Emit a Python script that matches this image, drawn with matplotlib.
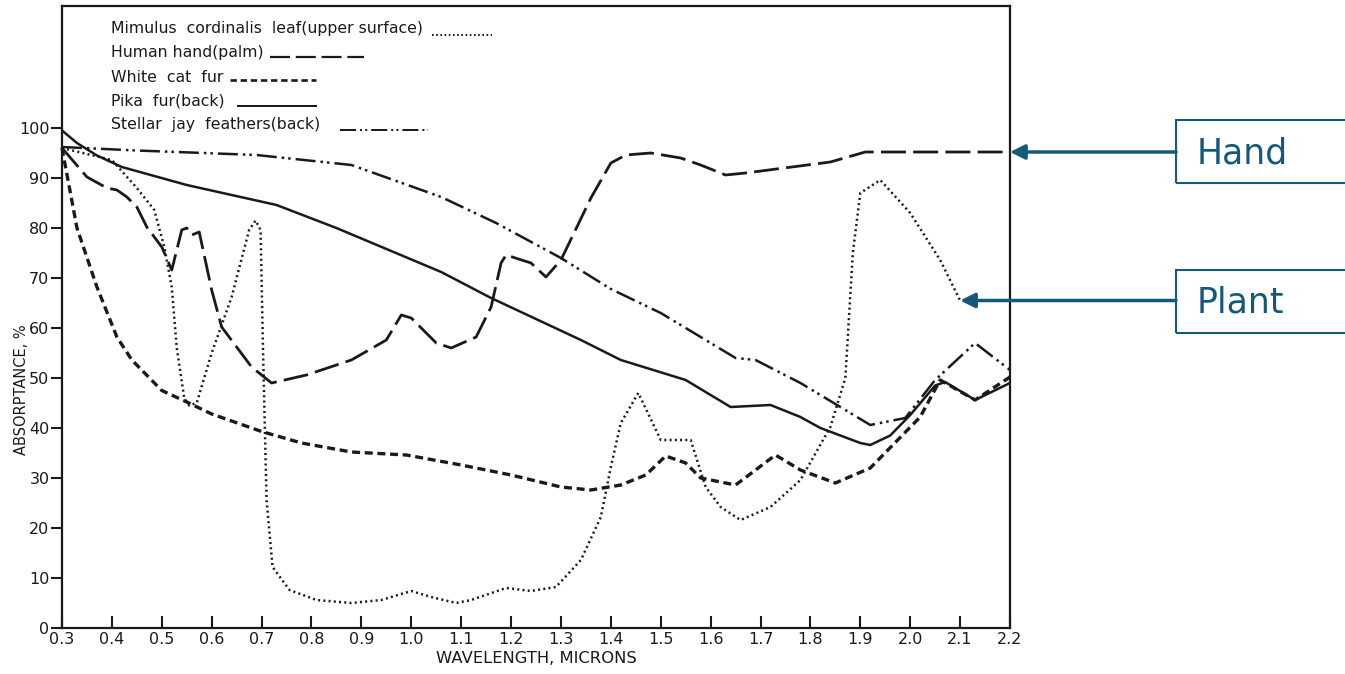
from __future__ import annotations

import matplotlib

matplotlib.use("Agg")
import matplotlib.pyplot as plt
from matplotlib.lines import Line2D
from matplotlib.patches import Rectangle


# values (wavelength in microns, absorptance in %)
WL_LEAF = [0.30, 0.40, 0.45, 0.485, 0.505, 0.52, 0.53, 0.545, 0.555, 0.57, 0.60, 0.64, 0.675,
           0.688, 0.698, 0.703, 0.71, 0.722, 0.756, 0.81, 0.88, 0.94, 1.00, 1.04, 1.09, 1.12,
           1.19, 1.24, 1.29, 1.34, 1.38, 1.40, 1.42, 1.455, 1.50, 1.56, 1.59, 1.62, 1.66, 1.72,
           1.78, 1.84, 1.87, 1.885, 1.90, 1.94, 2.00, 2.06, 2.10]
ABS_LEAF = [96, 93.6, 88, 83.6, 76.2, 68.2, 56, 46, 44.5, 45, 55, 66.2, 79.6,
            81.5, 79.6, 55, 25.6, 12.2, 7.6, 5.6, 5, 5.6, 7.4, 6.2, 5, 5.6,
            8, 7.4, 8.2, 13.6, 22.2, 32.2, 41, 47, 37.6, 37.6, 28.2, 24.2, 21.6, 24.2,
            29.6, 40.2, 50, 75, 87, 89.6, 83, 73.6, 65.5]

WL_HAND = [0.30, 0.35, 0.39, 0.41, 0.43, 0.45, 0.47, 0.50, 0.52, 0.54, 0.55, 0.56, 0.575,
           0.60, 0.62, 0.68, 0.72, 0.79, 0.88, 0.95, 0.98, 1.00, 1.05, 1.08, 1.13, 1.16,
           1.18, 1.19, 1.24, 1.27, 1.30, 1.36, 1.40, 1.43, 1.48, 1.54, 1.58, 1.63, 1.67,
           1.84, 1.91, 2.20]
ABS_HAND = [96, 90.2, 88, 87.6, 86.2, 84.2, 80.2, 76.2, 71.6, 79.6, 80, 78.6, 79.2,
            67.6, 60.2, 52.2, 49, 50.6, 53.6, 57.6, 62.6, 62, 57, 56, 58.2, 64.2,
            73, 74.6, 73, 70.2, 73.6, 86, 93, 94.6, 95, 94, 92.6, 90.6, 91,
            93.2, 95.2, 95.2]

WL_CAT = [0.30, 0.33, 0.37, 0.41, 0.44, 0.50, 0.55, 0.60, 0.70, 0.78, 0.88, 0.99, 1.10,
          1.20, 1.30, 1.36, 1.42, 1.47, 1.51, 1.55, 1.58, 1.65, 1.73, 1.78, 1.85, 1.92,
          2.02, 2.06, 2.13, 2.20]
ABS_CAT = [96, 80, 68.2, 58.2, 53.6, 47.5, 45.2, 42.8, 39.3, 37, 35.2, 34.6, 32.6,
           30.6, 28.2, 27.6, 28.6, 30.6, 34.4, 33, 30, 28.6, 34.6, 31.6, 29, 32,
           42.2, 49.6, 45.6, 50.2]

WL_PIKA = [0.30, 0.33, 0.37, 0.42, 0.55, 0.73, 0.85, 1.06, 1.16, 1.34, 1.42, 1.55, 1.64,
           1.72, 1.78, 1.82, 1.90, 1.92, 1.96, 2.00, 2.05, 2.07, 2.13, 2.20]
ABS_PIKA = [99.5, 97, 94.5, 92.2, 88.6, 84.6, 80, 71.2, 66, 57.6, 53.6, 49.6, 44.2,
            44.6, 42.2, 40, 37, 36.6, 38.5, 42.6, 48.5, 49.2, 45.6, 49]

WL_JAY = [0.30, 0.45, 0.69, 0.88, 1.06, 1.17, 1.30, 1.40, 1.50, 1.58, 1.65, 1.69, 1.78,
          1.82, 1.92, 1.99, 2.05, 2.13, 2.20]
ABS_JAY = [96.2, 95.5, 94.6, 92.6, 86.2, 81, 74, 67.8, 63, 58.2, 54, 53.6, 49,
           46.6, 40.6, 42, 49.6, 57, 51.6]

LABELS = ["Mimulus  cordinalis  leaf(upper surface)", "Human hand(palm)", "White  cat  fur",
          "Pika  fur(back)", "Stellar  jay  feathers(back)"]
X_TICKS = [0.3, 0.4, 0.5, 0.6, 0.7, 0.8, 0.9, 1.0, 1.1, 1.2, 1.3, 1.4, 1.5, 1.6, 1.7, 1.8,
           1.9, 2.0, 2.1, 2.2]
Y_TICKS = [0, 10, 20, 30, 40, 50, 60, 70, 80, 90, 100]

W, H = 1345, 674
INK = "#1a1a1a"
TEAL = "#14587a"

STYLES = [
    dict(ls=(0, (0.8, 1.3)), lw=1.8),           # leaf, dotted
    dict(ls=(0, (9, 2.6)), lw=2.0),             # hand, long dash
    dict(ls=(0, (2.4, 1.4)), lw=2.4),           # cat, short dash
    dict(ls="-", lw=1.8),                       # pika, solid
    dict(ls=(0, (8, 2, 1, 1.6, 1, 2)), lw=1.8),  # jay, dash-dot-dot
]
# legend sample segments, pixel positions in the scan: x0, x1, y
SAMPLES = [(432, 492, 35), (270, 364, 57), (230, 316, 80), (238, 316, 106), (340, 428, 130)]
ROWS_Y = [29, 53, 77, 101, 125]


def fx(px: float) -> float:
    return px / W


def fy(py: float) -> float:
    return 1 - py / H


def main() -> None:
    fig = plt.figure(figsize=(W / 100, H / 100), dpi=100)
    ax = fig.add_axes([fx(62), fy(628), fx(1010) - fx(62), fy(6) - fy(628)])

    series = [(WL_LEAF, ABS_LEAF), (WL_HAND, ABS_HAND), (WL_CAT, ABS_CAT),
              (WL_PIKA, ABS_PIKA), (WL_JAY, ABS_JAY)]
    for (x, y), st in zip(series, STYLES):
        ax.plot(x, y, color=INK, linestyle=st["ls"], linewidth=st["lw"],
                solid_capstyle="butt", dash_capstyle="butt", clip_on=False)

    ax.set_xlim(0.3, 2.2)
    ax.set_ylim(0, 124.4)
    ax.set_xticks(X_TICKS)
    ax.set_xticklabels([f"{v:.1f}" for v in X_TICKS], fontsize=11.5)
    ax.set_yticks(Y_TICKS)
    ax.set_yticklabels([str(v) for v in Y_TICKS], fontsize=11.5)
    ax.tick_params(axis="x", direction="in", length=9, width=1.5, pad=3, colors=INK)
    ax.tick_params(axis="y", direction="out", length=8, width=1.5, pad=1, colors=INK)
    for s in ax.spines.values():
        s.set_linewidth(1.6)
        s.set_color(INK)
    ax.set_xlabel("WAVELENGTH, MICRONS", fontsize=11.8, labelpad=3, color=INK)
    ax.set_ylabel("ABSORPTANCE, %", fontsize=10.5, color=INK)
    ax.yaxis.set_label_coords(-0.035, (628 - 390) / 622)

    # hand-lettered key in the top-left corner
    for label, row_y, (x0, x1, sy), st in zip(LABELS, ROWS_Y, SAMPLES, STYLES):
        fig.text(fx(111), fy(row_y), label, fontsize=11.3, va="center", ha="left", color=INK)
        fig.add_artist(Line2D([fx(x0), fx(x1)], [fy(sy), fy(sy)], color=INK,
                              linestyle=st["ls"], linewidth=st["lw"] * 0.8,
                              transform=fig.transFigure))

    # callout boxes on the right
    for name, (x, y), box_top in [("Hand", (WL_HAND[-1], ABS_HAND[-1]), 120),
                                  ("Plant", (WL_LEAF[-1], ABS_LEAF[-1]), 270)]:
        fig.add_artist(Rectangle((fx(1176), fy(box_top + 63)), fx(200), fy(0) - fy(63),
                                 fill=False, edgecolor=TEAL, linewidth=1.5,
                                 transform=fig.transFigure, clip_on=False))
        fig.text(fx(1197), fy(box_top + 33), name, fontsize=25, color=TEAL,
                 va="center", ha="left")
        ax.annotate("", xy=(x, y), xycoords="data",
                    xytext=(fx(1176), fy(628 - y * 622 / 124.4)), textcoords="figure fraction",
                    arrowprops=dict(arrowstyle="-|>", color=TEAL, lw=2.5,
                                    mutation_scale=22, shrinkA=0, shrinkB=0),
                    annotation_clip=False)

    fig.savefig("out.png", dpi=100)
    plt.close(fig)


if __name__ == "__main__":
    main()
